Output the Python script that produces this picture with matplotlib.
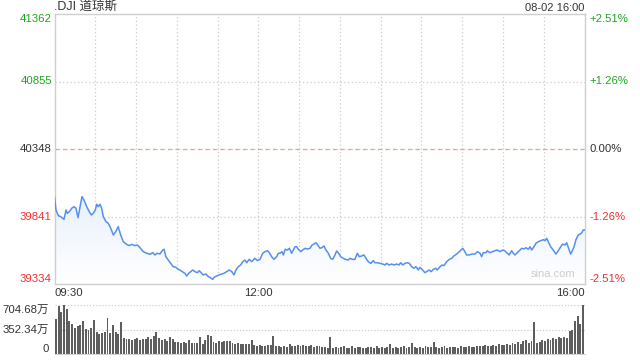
import numpy as np
import matplotlib
matplotlib.use("Agg")
import matplotlib.pyplot as plt
from matplotlib.colors import LinearSegmentedColormap

plt.rcParams['font.family'] = ['Liberation Sans', 'Noto Sans CJK SC', 'DejaVu Sans']

# minutes after 09:30 and index level
minutes = [0, 1.1, 2.8, 4.6, 6.0, 7.0, 8.5, 9.4, 10.9, 12.7, 14.3, 15.8, 17.3, 18.8, 20.2,
           21.7, 23.7, 25.6, 27.1, 28.5, 30.0, 31.1, 32.2, 33.5, 34.7, 35.9, 37.9, 39.6,
           41.4, 43.3, 45.0, 46.9, 48.7, 50.6, 53.1, 55.0, 56.8, 59.2, 60.9, 62.9, 65.3,
           67.8, 70.3, 72.3, 73.9, 75.6, 77.6, 79.6, 80.6, 82.0, 83.7, 85.5, 87.4, 89.4,
           91.1, 92.3, 94.0, 96.0, 97.3, 98.7, 100.2, 101.7, 103.4, 105.1, 106.5, 108.3,
           109.5, 111.5, 113.2, 114.4, 116.4, 117.4, 119.3, 121.0, 123.0, 124.7, 126.7,
           128.6, 130.4, 132.1, 133.5, 135.2, 137.0, 138.5, 140.2, 141.4, 143.3, 145.1,
           147.5, 149.2, 151.2, 153.2, 154.9, 156.6, 158.1, 159.8, 161.5, 163.5, 164.7,
           165.9, 167.4, 168.4, 169.8, 171.3, 172.8, 174.5, 175.7, 177.0, 178.2, 179.4,
           181.2, 182.6, 184.3, 186.0, 188.0, 189.5, 190.9, 192.4, 193.7, 195.4, 196.8,
           198.3, 199.8, 201.5, 203.2, 204.7, 206.4, 207.6, 209.1, 210.6, 212.5, 214.3,
           216.2, 217.4, 219.4, 221.1, 222.8, 224.3, 226.0, 227.7, 229.2, 230.9, 232.7,
           234.6, 235.8, 237.5, 239.5, 241.5, 243.2, 244.4, 246.3, 248.1, 249.8, 251.8,
           253.5, 254.7, 256.2, 257.9, 259.6, 261.1, 262.8, 264.5, 266.0, 267.7, 268.9,
           270.9, 272.6, 273.8, 275.8, 277.2, 278.7, 280.7, 281.7, 283.7, 285.3, 286.6,
           288.6, 290.5, 292.3, 293.9, 295.9, 297.9, 300.4, 301.3, 303.3, 305.2, 307.0,
           309.4, 311.1, 313.1, 314.3, 315.5, 317.5, 318.5, 320.4, 322.4, 324.1, 325.8,
           327.8, 329.8, 331.3, 332.7, 334.6, 336.4, 337.6, 338.8, 340.5, 342.5, 343.8,
           345.5, 346.9, 348.6, 349.9, 351.1, 352.8, 354.3, 356.0, 357.8, 359.7, 360.9,
           362.2, 363.3, 365.1, 367.0, 369.0, 370.7, 372.5, 373.9, 375.6, 376.9, 378.1,
           379.8, 381.3, 382.3, 383.7, 385.4, 386.7, 388.0, 389.1, 390]
prices = [39990, 39890, 39847, 39840, 39827, 39820, 39890, 39865, 39877, 39903, 39915, 39903,
          39832, 39915, 39990, 39965, 39915, 39877, 39852, 39865, 39890, 39933, 39915, 39933,
          39903, 39840, 39802, 39790, 39752, 39702, 39727, 39765, 39702, 39652, 39632, 39622,
          39632, 39622, 39627, 39607, 39577, 39565, 39557, 39570, 39552, 39565, 39560, 39589,
          39595, 39539, 39514, 39489, 39464, 39459, 39444, 39439, 39427, 39414, 39394, 39414,
          39427, 39439, 39427, 39419, 39434, 39414, 39402, 39409, 39389, 39384, 39369, 39384,
          39394, 39402, 39409, 39414, 39427, 39439, 39427, 39402, 39439, 39464, 39477, 39502,
          39514, 39494, 39519, 39502, 39527, 39510, 39519, 39565, 39577, 39584, 39569, 39539,
          39519, 39539, 39565, 39565, 39577, 39552, 39595, 39589, 39602, 39565, 39589, 39614,
          39614, 39595, 39577, 39589, 39602, 39597, 39602, 39627, 39634, 39644, 39627, 39602,
          39607, 39620, 39589, 39565, 39527, 39519, 39552, 39582, 39565, 39539, 39527, 39519,
          39514, 39527, 39519, 39519, 39565, 39539, 39545, 39552, 39527, 39502, 39489, 39510,
          39494, 39494, 39489, 39484, 39477, 39489, 39477, 39484, 39477, 39484, 39477, 39494,
          39477, 39489, 39494, 39489, 39464, 39452, 39464, 39439, 39459, 39439, 39419, 39427,
          39439, 39427, 39444, 39452, 39439, 39464, 39477, 39472, 39502, 39519, 39527, 39545,
          39559, 39577, 39602, 39589, 39552, 39552, 39559, 39559, 39577, 39565, 39539, 39569,
          39569, 39584, 39569, 39577, 39584, 39589, 39577, 39589, 39584, 39569, 39552, 39584,
          39565, 39552, 39569, 39589, 39602, 39597, 39607, 39595, 39614, 39589, 39614, 39640,
          39652, 39659, 39667, 39659, 39677, 39652, 39614, 39589, 39559, 39584, 39614, 39634,
          39627, 39644, 39609, 39559, 39589, 39614, 39667, 39702, 39709, 39719, 39740, 39740]

# volume per 2-minute bar, unit: 万
volumes = [500, 690, 600, 700,
           640, 480, 430, 380, 400, 420,
           470, 360, 340, 380, 490,
           310, 290, 300, 310, 520,
           300, 420, 320, 290, 460,
           230, 210, 220, 200, 210, 230, 200, 220, 210, 240, 220, 260, 320, 230,
           200, 210, 190, 250, 220,
           170, 175, 165, 170, 160, 205,
           160, 155, 165, 245, 150,
           195, 278, 265,
           170, 165, 185, 170, 190, 185,
           190, 160, 150, 155, 145, 150,
           140, 150, 197,
           130, 120, 125, 115, 120, 125, 130,
           254,
           110, 115, 105, 110, 100, 150, 115,
           120, 125, 110, 130, 115, 120, 125, 105, 120,
           110, 95, 100, 85,
           240,
           90, 100, 85, 95, 110, 80, 90, 120, 85, 95,
           100, 90, 80, 105, 95, 85, 110, 90, 100, 80,
           95, 150, 90, 100, 85, 95, 110, 90, 100, 155,
           95, 85, 100, 90, 110, 95, 105, 170, 100, 90,
           95, 110, 85, 100, 95, 105, 90, 110, 100, 95,
           115, 105, 100, 120, 110, 115, 125, 110, 120, 130,
           115, 140, 125, 135, 150, 130, 160, 145, 170, 150,
           180, 200, 165, 190,
           455,
           160, 170, 200, 190, 210, 200, 230, 210, 240, 230, 250, 230, 330, 350, 470, 540, 430,
           704.68]

price_ticks = [41362, 40855, 40348, 39841, 39334]
pct_labels = ["+2.51%", "+1.26%", "0.00%", "-1.26%", "-2.51%"]
vol_ticks = [704.68, 352.34, 0]
vol_labels = ["704.68万", "352.34万", "0"]
time_labels = ["09:30", "12:00", "16:00"]
time_ticks = [0, 150, 390]

GREEN = '#1ea51e'
RED = '#f23030'
DARK = '#333333'
GRID = '#cccccc'
tick_colors = [GREEN, GREEN, DARK, RED, RED]

fig = plt.figure(figsize=(6.4, 3.6), dpi=100)
W, H = 640, 360
left, right = 54.5, 584.5
ax = fig.add_axes([left / W, 1 - 284 / H, (right - left) / W, 270 / H])
axv = fig.add_axes([left / W, 1 - 354 / H, (right - left) / W, 49 / H])

# main price panel
ymin, ymax = price_ticks[-1], price_ticks[0]
for m in range(30, 390, 30):
    ax.axvline(m, color=GRID, lw=0.9, ls=(0, (1, 2)), zorder=1)
for p in price_ticks[1:-1]:
    ax.axhline(p, color=GRID, lw=0.9, ls=(0, (1, 2)), zorder=1)
ax.axhline(price_ticks[2], color='#f2a36e', lw=0.9, ls=(0, (3, 3)), zorder=1.5)

# light gradient under the line
poly = ax.fill_between(minutes, prices, ymin, color='none', lw=0)
cmap = LinearSegmentedColormap.from_list('fade', ['#ffffff', '#e9f1fd'])
grad = np.linspace(0, 1, 256).reshape(-1, 1)
im = ax.imshow(grad, cmap=cmap, aspect='auto', origin='lower',
               extent=[0, 390, ymin, max(prices)], zorder=2)
im.set_clip_path(poly.get_paths()[0], ax.transData)
ax.plot(minutes, prices, color='#5590ee', lw=1.1, zorder=3)

ax.set_xlim(0, 390)
ax.set_ylim(ymin, ymax)
ax.set_xticks([])
ax.set_yticks([])
for s in ax.spines.values():
    s.set_color('#cfcfcf')
    s.set_linewidth(1)

tr = ax.get_yaxis_transform()
for i, (p, lab, pc, c) in enumerate(zip(price_ticks, [str(v) for v in price_ticks], pct_labels, tick_colors)):
    va = 'top' if i == 0 else ('bottom' if i == len(price_ticks) - 1 else 'center')
    ax.text(-0.005, p, lab, transform=tr, ha='right', va=va, color=c, fontsize=8.2)
    ax.text(1.01, p, pc, transform=tr, ha='left', va=va, color=c, fontsize=8.2)

ax.text(0.0, 1.005, ".DJI 道琼斯", transform=ax.transAxes, ha='left', va='bottom',
        fontsize=9, color=DARK)
ax.text(1.0, 1.005, "08-02 16:00", transform=ax.transAxes, ha='right', va='bottom',
        fontsize=8, color=DARK)
ax.text(0.94, 0.02, "sina.com", transform=ax.transAxes, ha='center', va='bottom',
        fontsize=8, color='#cdcdcd')

has = ['left', 'center', 'right']
for t, lab, h in zip(time_ticks, time_labels, has):
    ax.text(t, -0.015, lab, transform=ax.get_xaxis_transform(), ha=h, va='top',
            fontsize=8.2, color=DARK)

# volume panel
bar_minutes = np.arange(len(volumes)) * 2 + 1
axv.bar(bar_minutes, volumes, width=1.4, color='#5e5e5e', zorder=2)
for v in vol_ticks[:-1]:
    axv.axhline(v, color=GRID, lw=0.9, ls=(0, (1, 1.5)), zorder=1)
axv.set_xlim(0, 390)
axv.set_ylim(0, vol_ticks[0])
axv.set_xticks([])
axv.set_yticks([])
for k, s in axv.spines.items():
    s.set_visible(k == 'bottom')
axv.spines['bottom'].set_color('#d5d5d5')
trv = axv.get_yaxis_transform()
for i, (v, lab) in enumerate(zip(vol_ticks, vol_labels)):
    va = 'top' if i == 0 else ('bottom' if i == len(vol_ticks) - 1 else 'center')
    axv.text(-0.01, v, lab, transform=trv, ha='right', va=va, fontsize=8.2, color=DARK)

fig.savefig('out.png', dpi=100)
